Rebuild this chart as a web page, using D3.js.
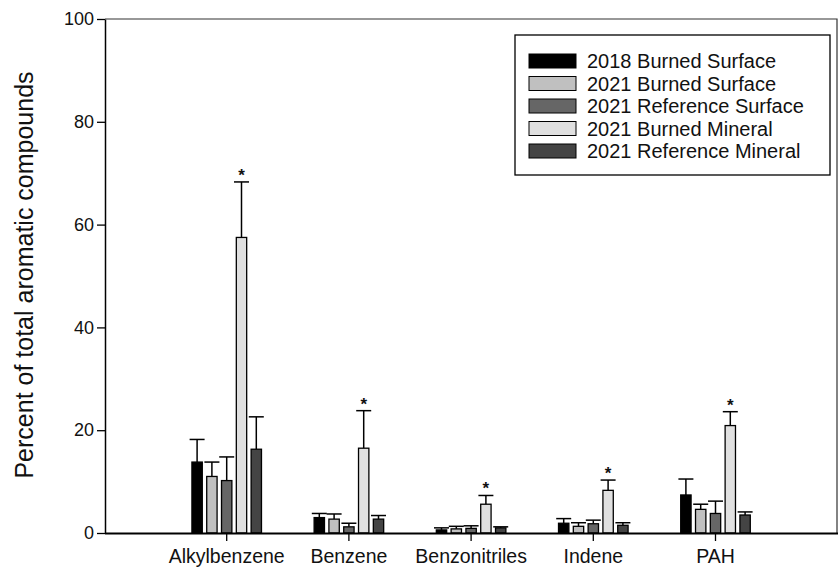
<!DOCTYPE html>
<html>
<head>
<meta charset="utf-8">
<script src="https://cdn.jsdelivr.net/npm/d3@7"></script>
<style>
  body { margin: 0; background: #fff; }
  text { font-family: "Liberation Sans", Arial, sans-serif; fill: #111; }
</style>
</head>
<body>
<script>
// values (percent of total aromatic compounds)
const compounds = ["Alkylbenzene", "Benzene", "Benzonitriles", "Indene", "PAH"];
const treatments = ["2018 Burned Surface", "2021 Burned Surface", "2021 Reference Surface", "2021 Burned Mineral", "2021 Reference Mineral"];
const fills = ["#000000", "#c0c0c0", "#666666", "#e0e0e0", "#444444"];

// one array per treatment, in compound order
const burned2018 = [13.8, 3.0, 0.6, 1.9, 7.4];
const burnedSurf2021 = [11.0, 2.7, 0.8, 1.3, 4.6];
const refSurf2021 = [10.2, 1.2, 0.9, 1.8, 3.8];
const burnedMin2021 = [57.5, 16.5, 5.6, 8.3, 20.9];
const refMin2021 = [16.3, 2.7, 1.0, 1.5, 3.5];

// upper error bar (standard error)
const err2018 = [4.4, 0.8, 0.4, 0.9, 3.1];
const errBurnedSurf = [2.8, 1.0, 0.5, 0.7, 1.0];
const errRefSurf = [4.6, 0.7, 0.5, 0.7, 2.4];
const errBurnedMin = [10.8, 7.3, 1.7, 2.0, 2.7];
const errRefMin = [6.3, 0.7, 0.2, 0.5, 0.6];

const signif = [true, true, true, true, true]; // asterisk over 2021 Burned Mineral
const yTicks = [0, 20, 40, 60, 80, 100];

const means = [burned2018, burnedSurf2021, refSurf2021, burnedMin2021, refMin2021];
const errs = [err2018, errBurnedSurf, errRefSurf, errBurnedMin, errRefMin];

const W = 838, H = 581;
const svg = d3.select("body").append("svg").attr("width", W).attr("height", H);

const x0 = d3.scaleBand().domain(compounds).range([165.6, 776.6]);
const x1 = d3.scaleBand().domain(treatments).range([-37, 37]).paddingInner(0.3).paddingOuter(0.15);
const y = d3.scaleLinear().domain([0, 100]).range([533, 19]);

// frame (top & right)
svg.append("path")
    .attr("d", `M105,${y(100)}H837V533`)
    .attr("fill", "none").attr("stroke", "#333").attr("stroke-width", 1.2);

// bars + error bars
compounds.forEach((c, i) => {
    const cx = x0(c) + x0.bandwidth() / 2;
    treatments.forEach((t, j) => {
        const v = means[j][i], e = errs[j][i];
        const bx = cx + x1(t);
        const mid = bx + x1.bandwidth() / 2;
        // error line + cap
        svg.append("line")
            .attr("x1", mid).attr("x2", mid)
            .attr("y1", y(v)).attr("y2", y(v + e))
            .attr("stroke", "#000").attr("stroke-width", 1.5);
        svg.append("line")
            .attr("x1", mid - 7.5).attr("x2", mid + 7.5)
            .attr("y1", y(v + e)).attr("y2", y(v + e))
            .attr("stroke", "#000").attr("stroke-width", 1.5);
        svg.append("rect")
            .attr("x", bx).attr("y", y(v))
            .attr("width", x1.bandwidth()).attr("height", y(0) - y(v))
            .attr("fill", fills[j]).attr("stroke", "#000").attr("stroke-width", 1.3);
        if (j === 3 && signif[i]) {
            svg.append("text")
                .attr("x", mid).attr("y", y(v + e) - 1)
                .attr("text-anchor", "middle")
                .style("font-size", "17px").style("font-weight", "bold")
                .text("*");
        }
    });
});

// y axis
const yAxis = svg.append("g").attr("transform", "translate(105,0)")
    .call(d3.axisLeft(y).tickValues(yTicks).tickSize(8).tickPadding(3).tickSizeOuter(0));
yAxis.select(".domain").attr("stroke", "#000").attr("stroke-width", 1.5);
yAxis.selectAll(".tick line").attr("stroke", "#000").attr("stroke-width", 1.3);
yAxis.selectAll(".tick text").style("font-size", "18px").attr("fill", "#111");

// x axis
const xAxis = svg.append("g").attr("transform", "translate(0,533)")
    .call(d3.axisBottom(x0).tickSize(8).tickPadding(8).tickSizeOuter(0));
xAxis.select(".domain").attr("d", "M105,0.5H838").attr("stroke", "#000").attr("stroke-width", 2);
xAxis.selectAll(".tick line").attr("stroke", "#000").attr("stroke-width", 1.3);
xAxis.selectAll(".tick text").style("font-size", "19.5px").attr("fill", "#111");

// y label
svg.append("text")
    .attr("transform", `translate(33,${(y(0) + y(100)) / 2 - 1}) rotate(-90)`)
    .attr("text-anchor", "middle")
    .style("font-size", "25px")
    .text("Percent of total aromatic compounds");

// legend
const lg = svg.append("g");
lg.append("rect").attr("x", 515).attr("y", 35).attr("width", 315).attr("height", 140)
    .attr("fill", "#fff").attr("stroke", "#000").attr("stroke-width", 1.3);
treatments.forEach((t, j) => {
    const ly = 61 + j * 22.5;
    lg.append("rect").attr("x", 529).attr("y", ly - 7).attr("width", 47).attr("height", 14)
        .attr("fill", fills[j]).attr("stroke", "#000").attr("stroke-width", 1);
    lg.append("text").attr("x", 587).attr("y", ly + 7)
        .style("font-size", "20px").text(t);
});
</script>
</body>
</html>
